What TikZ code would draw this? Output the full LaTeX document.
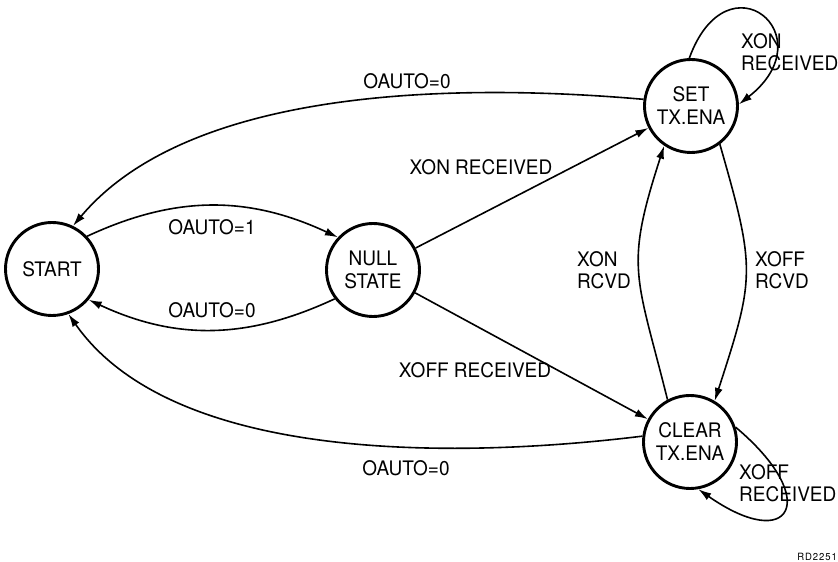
\documentclass[tikz,border=0pt]{standalone}
\usepackage{fontspec}
\setmainfont{TeX Gyre Heros}[FakeStretch=0.95]
\usetikzlibrary{arrows.meta}

\begin{document}
\begin{tikzpicture}[x=1pt, y=1pt,
      state/.style={draw, circle, line width=2.9pt, minimum size=93pt, inner sep=0pt,
                  align=center, font=\fontsize{20}{23}\selectfont},
      lbl/.style={font=\fontsize{20}{22}\selectfont, inner sep=0pt},
      ar/.style={-{Latex[length=13pt, width=8pt]}, line width=1.6pt}
    ]
    \useasboundingbox (0,0) rectangle (838,562);
    \node[state] (start) at (52,293) {START};
    \node[state] (null) at (373,292) {NULL\\STATE};
    \node[state] (set) at (691,456) {SET\\TX.ENA};
    \node[state] (clear) at (690,120) {CLEAR\\TX.ENA};

    \draw[ar] (start.43) to[out=25,in=155] (null.137);
    \draw[ar] (null.217) to[out=205,in=335] (start.-40);
    \draw[ar] (null) -- (set);
    \draw[ar] (null) -- (clear);
    \draw[ar] (set.172) to[out=175,in=50,looseness=0.8] (start.64);
    \draw[ar] (clear.173) to[out=187,in=-55,looseness=0.8] (start.-70);
    \draw[ar] (clear.118) to[out=104,in=252,looseness=1.3] (set.236);
    \draw[ar] (set.-53) to[out=-74,in=72,looseness=1.3] (clear.59);

    % self loops
    \draw[ar] (set.92) to[out=70,in=38,looseness=4.2] (set.2);
    \draw[ar] (clear.18) to[out=-40,in=-35,looseness=4.0] (clear.-80);

    % labels
    \node[lbl] (auto1) at (212,335) {OAUTO=1};
    \node[lbl] (auto0) at (212,252) {OAUTO=0};
    \node[lbl] (auto0top) at (407,481) {OAUTO=0};
    \node[lbl] (auto0bot) at (406,94) {OAUTO=0};
    \node[lbl] (xonrx) at (481,395) {XON RECEIVED};
    \node[lbl] (xoffrx) at (475,192) {XOFF RECEIVED};
    \node[lbl, align=left, anchor=west] (xonrcvd) at (577,292) {XON\\RCVD};
    \node[lbl, align=left, anchor=west] (xoffrcvd) at (755,292) {XOFF\\RCVD};
    \node[lbl, align=left, anchor=west] (xonloop) at (741,510) {XON\\RECEIVED};
    \node[lbl, align=left, anchor=west] (xoffloop) at (739,79) {XOFF\\RECEIVED};
    \node[font=\fontsize{10}{12}\selectfont\addfontfeature{LetterSpace=9},
          anchor=east, inner sep=0pt] (tag) at (837,5) {RD2251};
\end{tikzpicture}
\end{document}
